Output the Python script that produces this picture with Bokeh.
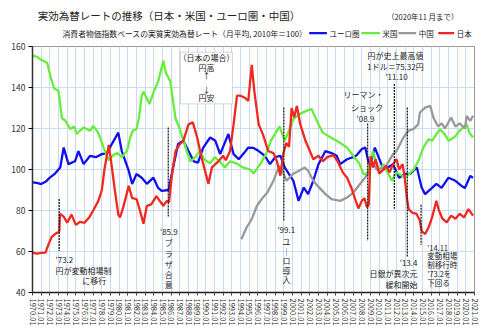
from math import pi
from bokeh.plotting import figure
from bokeh.layouts import column
from bokeh.models import FixedTicker, Label, BoxAnnotation, Range1d
from bokeh.embed import file_html
from bokeh.resources import INLINE

FONT = "Noto Sans CJK JP"

# ---------------- data ----------------
tick_years = list(range(1970, 2022))
tick_labels = [f"{y}.01" for y in tick_years]
y_ticks = [40, 60, 80, 100, 120, 140, 160]

series_names = ["ユーロ圏", "米国", "中国", "日本"]

jp_t = [1970.0, 1970.5, 1971.0, 1971.5, 1971.8, 1972.2, 1972.6, 1973.0, 1973.1, 1973.17, 1973.6, 1974.0,
        1974.5, 1975.0, 1975.5, 1976.0, 1976.6, 1977.0, 1977.6, 1978.0, 1978.3, 1978.8, 1979.1, 1979.5,
        1979.9, 1980.1, 1980.5, 1981.1, 1981.5, 1982.0, 1982.4, 1982.8, 1983.2, 1983.7, 1984.3, 1984.8,
        1985.1, 1985.5, 1985.75, 1986.1, 1986.5, 1987.0, 1987.4, 1988.0, 1988.5, 1989.0, 1989.5, 1990.3,
        1990.7, 1991.45, 1992.0, 1992.3, 1992.8, 1993.2, 1993.6, 1994.0, 1994.5, 1994.9, 1995.3, 1995.6,
        1996.1, 1996.6, 1997.2, 1997.8, 1998.2, 1998.6, 1998.95, 1999.3, 1999.6, 1999.9, 2000.2, 2000.5,
        2000.9, 2001.5, 2002.0, 2002.4, 2003.0, 2003.5, 2004.0, 2004.7, 2005.2, 2005.8, 2006.3, 2006.8,
        2007.3, 2007.6, 2008.0, 2008.3, 2008.6, 2008.8, 2009.0, 2009.3, 2009.6, 2010.0, 2010.5, 2010.8,
        2011.2, 2011.6, 2012.0, 2012.3, 2012.7, 2012.95, 2013.2, 2013.4, 2013.8, 2014.3, 2014.7, 2014.9,
        2015.3, 2015.7, 2016.1, 2016.6, 2016.9, 2017.3, 2017.8, 2018.3, 2018.8, 2019.3, 2019.8, 2020.3,
        2020.83]
jp_v = [59.5, 59.0, 59.3, 59.5, 63.0, 67.0, 68.5, 69.5, 70.0, 78.4, 77.0, 74.0,
        78.0, 73.0, 74.5, 74.0, 77.0, 80.0, 84.7, 90.0, 100.0, 112.0, 103.0, 90.0,
        78.0, 76.6, 82.0, 92.0, 86.0, 85.6, 80.0, 73.5, 82.3, 83.0, 87.0, 84.0,
        82.3, 84.7, 84.0, 97.8, 109.0, 112.4, 114.0, 122.0, 123.0, 115.6, 106.0, 93.0,
        101.0, 104.0, 106.7, 104.5, 109.0, 122.0, 136.0, 136.0, 135.0, 133.5, 151.0, 138.0,
        122.0, 117.0, 109.0, 108.0, 104.0, 97.0, 108.0, 113.0, 111.0, 130.0, 125.5, 131.0,
        122.0, 114.0, 109.0, 105.0, 106.7, 104.0, 106.0, 107.0, 104.0, 98.6, 96.0, 91.0,
        84.7, 81.0, 84.7, 86.0, 81.5, 83.0, 106.5, 101.0, 105.0, 98.0, 100.0, 101.8,
        98.6, 102.6, 105.0, 100.0, 102.6, 96.0, 86.3, 80.7, 79.0, 78.4, 75.0, 70.0,
        68.5, 71.7, 76.6, 84.7, 80.0, 76.0, 74.2, 77.5, 76.0, 78.4, 76.6, 80.7,
        77.5]

us_t = [1970.0, 1970.5, 1971.0, 1971.7, 1972.1, 1972.5, 1973.0, 1973.4, 1973.8, 1974.35, 1974.8, 1975.1,
        1975.5, 1975.9, 1976.65, 1977.0, 1977.5, 1977.8, 1978.2, 1978.8, 1979.3, 1979.8, 1980.3, 1980.9,
        1981.3, 1981.6, 1982.0, 1982.3, 1982.6, 1982.8, 1983.5, 1984.0, 1984.5, 1985.1, 1985.4, 1985.9,
        1986.5, 1987.0, 1987.8, 1988.2, 1988.8, 1989.3, 1989.8, 1990.5, 1991.0, 1991.6, 1992.2, 1992.8,
        1993.5, 1994.3, 1995.1, 1995.5, 1996.4, 1997.0, 1997.5, 1998.5, 1999.1, 1999.6, 2000.1, 2000.8,
        2001.6, 2002.2, 2003.0, 2003.5, 2004.1, 2005.1, 2006.3, 2007.0, 2007.7, 2008.2, 2008.6, 2009.3,
        2009.6, 2010.0, 2010.5, 2011.45, 2012.0, 2013.0, 2014.0, 2014.5, 2015.1, 2015.7, 2016.1, 2017.0,
        2017.6, 2018.0, 2018.75, 2019.3, 2020.1, 2020.4, 2020.83]
us_v = [155.5, 155.0, 153.5, 152.0, 145.0, 139.5, 138.4, 125.0, 123.8, 119.7, 121.0, 117.3,
        119.0, 120.5, 118.9, 121.3, 118.5, 115.6, 110.7, 104.5, 107.0, 108.0, 106.0, 109.0,
        116.0, 119.0, 119.7, 125.4, 136.0, 138.0, 132.0, 138.0, 143.0, 153.0, 147.0, 143.0,
        125.0, 119.7, 109.0, 104.0, 106.0, 109.0, 105.0, 103.0, 106.0, 104.0, 101.0, 104.0,
        103.0, 101.0, 100.0, 98.0, 103.4, 108.0, 114.0, 121.0, 114.0, 119.0, 124.6, 127.0,
        128.6, 129.5, 122.0, 118.0, 116.4, 114.0, 110.7, 106.7, 103.0, 97.8, 97.8, 109.0,
        104.0, 99.4, 102.6, 94.5, 98.6, 96.0, 100.0, 104.0, 110.7, 114.8, 114.0, 119.7,
        117.0, 114.0, 116.0, 119.0, 122.0, 118.0, 115.6]

eu_t = [1970.0, 1970.5, 1971.0, 1971.5, 1972.0, 1972.6, 1973.2, 1973.6, 1974.15, 1974.9, 1975.3, 1975.9,
        1976.65, 1977.3, 1978.0, 1978.6, 1979.15, 1979.9, 1980.3, 1981.1, 1981.5, 1982.0, 1982.6, 1983.2,
        1983.95, 1984.5, 1984.9, 1985.7, 1986.3, 1986.8, 1987.4, 1988.0, 1988.6, 1989.1, 1989.7, 1990.5,
        1991.1, 1991.65, 1992.6, 1993.2, 1993.8, 1994.4, 1994.9, 1995.5, 1996.1, 1996.8, 1997.4, 1998.0,
        1998.6, 1999.1, 2000.1, 2000.7, 2001.3, 2001.8, 2002.4, 2003.0, 2003.8, 2004.5, 2005.1, 2005.5,
        2006.3, 2007.0, 2007.4, 2008.0, 2008.4, 2008.9, 2009.3, 2009.5, 2010.5, 2011.0, 2011.6, 2012.3,
        2013.0, 2013.6, 2014.35, 2014.9, 2015.3, 2016.1, 2016.6, 2017.2, 2018.0, 2018.8, 2019.5, 2019.9,
        2020.5, 2020.83]
eu_v = [93.7, 93.5, 92.9, 94.0, 96.0, 98.0, 101.0, 110.7, 102.6, 104.0, 109.0, 102.6,
        106.7, 106.0, 107.5, 108.0, 112.4, 118.0, 109.0, 99.4, 92.9, 97.8, 96.0, 93.0,
        96.0, 91.0, 89.6, 90.0, 102.6, 112.4, 114.0, 109.0, 104.0, 103.4, 110.7, 115.6,
        114.0, 107.5, 117.3, 107.5, 105.0, 108.0, 110.7, 110.5, 109.0, 106.7, 102.6, 106.0,
        106.7, 101.0, 94.5, 84.7, 91.2, 88.0, 94.5, 102.6, 109.0, 108.0, 106.7, 102.6,
        105.0, 106.0, 107.0, 110.0, 110.7, 101.0, 107.5, 110.7, 100.0, 101.0, 102.6, 96.0,
        97.8, 98.0, 101.0, 91.2, 88.0, 91.0, 93.0, 91.0, 96.0, 94.5, 92.0, 91.0,
        96.8, 96.0]

cn_t = [1994.1, 1994.7, 1995.3, 1995.9, 1996.45, 1997.1, 1997.8, 1998.2, 1998.6, 1999.3, 2000.1, 2000.6,
        2001.4, 2001.8, 2002.4, 2002.9, 2003.8, 2004.5, 2005.5, 2006.3, 2007.0, 2008.0, 2008.7, 2009.2,
        2009.7, 2010.0, 2010.8, 2011.6, 2012.0, 2012.8, 2013.4, 2013.95, 2014.5, 2014.7, 2015.3, 2015.9,
        2016.25, 2016.8, 2017.2, 2017.6, 2018.3, 2018.8, 2019.3, 2019.9, 2020.1, 2020.5, 2020.83]
cn_v = [66.0, 71.7, 75.8, 82.3, 85.6, 88.8, 94.5, 99.0, 101.8, 94.5, 98.0, 99.0,
        101.0, 99.4, 94.5, 92.0, 88.0, 85.5, 84.7, 86.3, 88.7, 94.0, 97.8, 104.0,
        100.0, 100.0, 101.8, 107.5, 109.0, 115.6, 119.0, 119.7, 122.0, 127.8, 130.2, 131.0,
        125.4, 121.0, 122.5, 120.0, 125.4, 121.0, 122.5, 120.0, 126.2, 123.7, 126.2]

# events: (date, top value, bottom value)
ev_x = [1973.083, 1985.667, 1999.0, 2008.667, 2011.75, 2013.25, 2014.833]
ev_top = [85.6, 120.5, 130.2, 122.4, 141.7, 130.2, 82.8]
ev_bot = [60.3, 76.6, 75.0, 65.2, 80.8, 57.4, 63.3]

COLORS = {"ユーロ圏": "#1010f0", "米国": "#66ee3a", "中国": "#999999", "日本": "#f0281e"}
LW = 2.3

# ---------------- header (title, subtitle, legend) ----------------
hf = figure(width=500, height=40, output_backend="svg", toolbar_location=None, title=None,
            x_range=Range1d(0, 500), y_range=Range1d(40, 0),
            x_axis_location=None, y_axis_location=None,
            min_border=0, min_border_left=0, min_border_right=0, min_border_top=0, min_border_bottom=0)
hf.outline_line_color = None
hf.grid.visible = False
hf.background_fill_color = "white"
hf.border_fill_color = "white"


def hnote(x, y, text, size, align="left"):
    hf.add_layout(Label(x=x, y=y, text=text, text_font=FONT, text_font_size=size,
                        text_align=align, text_baseline="middle", text_color="#222222"))


hnote(6, 15, "実効為替レートの推移（日本・米国・ユーロ圏・中国）", "10.5px")
hnote(34, 33.3, "消費者物価指数ベースの実質実効為替レート（月平均, 2010年＝100）", "7.8px")
hnote(482, 15.7, "（2020年11 月まで）", "7.5px", align="right")

# legend: swatch (start, end) and label position in header pixels
leg_x0 = [313, 372, 414, 459]
leg_x1 = [333, 393, 434, 477]
leg_y = 32.7
hf.segment(x0=leg_x0, y0=[leg_y] * 4, x1=leg_x1, y1=[leg_y] * 4,
           line_color=[COLORS[n] for n in series_names], line_width=LW)
for name, xe in zip(series_names, leg_x1):
    hnote(xe + 3, leg_y, name, "7.5px")

# ---------------- main figure ----------------
p = figure(width=500, height=288, output_backend="svg", toolbar_location=None, title=None,
           x_range=Range1d(1970, 2021), y_range=Range1d(40, 160),
           min_border_left=32, min_border_right=26, min_border_top=6, min_border_bottom=36)
p.background_fill_color = "white"
p.border_fill_color = "white"
p.outline_line_color = "#9a9a9a"
p.outline_line_width = 1

p.xaxis.ticker = FixedTicker(ticks=tick_years)
p.xaxis.major_label_overrides = {y: lab for y, lab in zip(tick_years, tick_labels)}
p.xaxis.major_label_orientation = -pi / 2
p.xaxis.major_label_text_font = FONT
p.xaxis.major_label_text_font_size = "7.5px"
p.xaxis.major_label_text_color = "#333333"
p.xaxis.major_label_standoff = 3
p.xaxis.axis_line_color = "#222222"
p.xaxis.axis_line_width = 1.5
p.xaxis.major_tick_out = 3
p.xaxis.major_tick_in = 0
p.xaxis.major_tick_line_color = "#444444"
p.xaxis.minor_tick_line_color = None

p.yaxis.ticker = FixedTicker(ticks=y_ticks)
p.yaxis.major_label_text_font = FONT
p.yaxis.major_label_text_font_size = "8.5px"
p.yaxis.major_label_text_color = "#333333"
p.yaxis.major_label_standoff = 3
p.yaxis.axis_line_color = "#333333"
p.yaxis.axis_line_width = 1.5
p.yaxis.major_tick_out = 4
p.yaxis.major_tick_in = 0
p.yaxis.minor_tick_line_color = None

p.xgrid.grid_line_color = "#c7dcf4"
p.ygrid.grid_line_color = "#c7dcf4"
p.xgrid.grid_line_width = 1
p.ygrid.grid_line_width = 1

# ---------------- series ----------------
p.line(eu_t, eu_v, line_color=COLORS["ユーロ圏"], line_width=LW)
p.line(us_t, us_v, line_color=COLORS["米国"], line_width=LW)
p.line(cn_t, cn_v, line_color=COLORS["中国"], line_width=LW)
p.line(jp_t, jp_v, line_color=COLORS["日本"], line_width=LW)

# event marker lines
p.segment(x0=ev_x, y0=ev_top, x1=ev_x, y1=ev_bot, line_color="#222222",
          line_width=1.3, line_dash="2 1")


def note(x, y, text, size="8px", align="left"):
    p.add_layout(Label(x=x, y=y, text=text, text_font=FONT, text_font_size=size,
                       text_align=align, text_baseline="middle", text_color="#222222"))


# box
p.add_layout(BoxAnnotation(left=1987.08, right=1993.08, top=157.2, bottom=132.0,
                           fill_color="white", fill_alpha=1, line_color="#777777", line_width=1))
for yv, t in [(154.8, "（日本の場合）"), (149.9, "円高"), (145.9, "↑"), (138.9, "↓"), (135.0, "円安")]:
    note(1990.08, yv, t, align="center")

# 1973
note(1972.65, 55.95, "'73.2")
note(1972.65, 50.7, "円が変動相場制")
note(1975.73, 45.85, "に移行")
# 1985
note(1985.73, 69.9, "'85.9", align="center")
for yv, t in zip([64.4, 59.0, 53.7, 48.8, 43.9], "ブラザ合意"):
    note(1985.73, yv, t, align="center")
# 1999
note(1999.28, 70.7, "'99.1", align="center")
for yv, t in zip([64.9, 60.1, 55.6, 50.7, 46.2], "ユ｜ロ導入"):
    note(1999.31, yv, t, align="center")
# 2008
note(2008.19, 136.6, "リーマン・", align="center")
note(2008.6, 130.4, "ショック", align="center")
note(2008.42, 124.7, "'08.9", align="center")
# 2011
note(2011.88, 155.6, "円が史上最高値", align="center")
note(2011.88, 150.2, "1ドル＝75.32円", align="center")
note(2012.0, 145.4, "'11.10", align="center")
# 2013
note(2014.42, 54.8, "'13.4", align="right")
note(2014.42, 49.1, "日銀が異次元", align="right")
note(2014.42, 43.9, "緩和開始", align="right")
# 2014
for yv, t in [(62.1, "'14.11"), (58.0, "変動相場"), (53.5, "制移行時"), (49.1, "'73.2を"), (45.0, "下回る")]:
    note(2015.54, yv, t, size="7.5px")

layout = column(hf, p, spacing=0)
open("out.html", "w").write(file_html(layout, INLINE))
